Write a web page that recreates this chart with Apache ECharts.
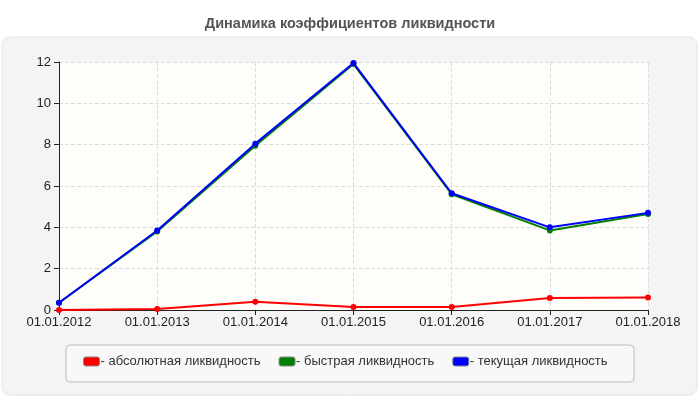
<!DOCTYPE html>
<html><head><meta charset="utf-8">
<script src="https://cdn.jsdelivr.net/npm/echarts@6/dist/echarts.min.js"></script>
<style>html,body{margin:0;padding:0;background:#fff}#c{width:700px;height:400px}</style>
</head><body><div id="c"></div>
<script>
const categories=['01.01.2012','01.01.2013','01.01.2014','01.01.2015','01.01.2016','01.01.2017','01.01.2018'];
const absolute=[0,0.05,0.4,0.15,0.15,0.58,0.6];
const quick=[0.35,3.8,7.95,11.9,5.6,3.85,4.65];
const current=[0.35,3.85,8.05,11.95,5.65,4.0,4.7];
const names=['- абсолютная ликвидность','- быстрая ликвидность','- текущая ликвидность'];
const colors=['#ff0000','#008000','#0000ff'];
const chart=echarts.init(document.getElementById('c'));
const mk=(n,d,c,z)=>({name:n,type:'line',data:d,symbol:'circle',symbolSize:6,z:z,
  lineStyle:{color:c,width:2},itemStyle:{color:c},emphasis:{disabled:true}});
chart.setOption({
  animation:false,
  textStyle:{fontFamily:'Arial, Liberation Sans, sans-serif'},
  title:{text:'Динамика коэффициентов ликвидности',left:'center',top:11,
    textStyle:{fontSize:14.5,fontWeight:'bold',color:'#555'}},
  graphic:[
    {type:'rect',z:-10,shape:{x:2,y:37,width:695,height:358,r:8},style:{fill:'#f4f4f4',stroke:'#e4e4e4'}},
    {type:'rect',z:-5,shape:{x:66,y:345,width:568,height:37,r:4},style:{fill:'#f8f8f8',stroke:'#bbb'}}
  ],
  grid:{left:59,right:52,top:62,bottom:90,show:true,backgroundColor:'#fdfdf9',borderWidth:0},
  legend:{top:350,left:78,itemGap:18,itemWidth:16,itemHeight:9,icon:'roundRect',
    textStyle:{fontSize:13,color:'#333',padding:[0,0,0,-4]},
    data:names.map((n,i)=>({name:n,itemStyle:{color:colors[i],borderColor:'#888',borderWidth:1}}))},
  xAxis:{type:'category',data:categories,boundaryGap:false,
    axisLine:{lineStyle:{color:'#222'}},axisTick:{show:true,lineStyle:{color:'#222'}},
    axisLabel:{color:'#222',fontSize:13,margin:6},
    splitLine:{show:true,lineStyle:{type:'dashed',color:'#ddd'}}},
  yAxis:{type:'value',min:0,max:12,interval:2,
    axisLine:{show:true,lineStyle:{color:'#222'}},axisTick:{show:true,lineStyle:{color:'#222'}},
    axisLabel:{color:'#222',fontSize:13},
    splitLine:{lineStyle:{type:'dashed',color:'#ddd'}}},
  series:[mk(names[0],absolute,colors[0],3),mk(names[1],quick,colors[1],2),mk(names[2],current,colors[2],4)]
});
</script></body></html>
